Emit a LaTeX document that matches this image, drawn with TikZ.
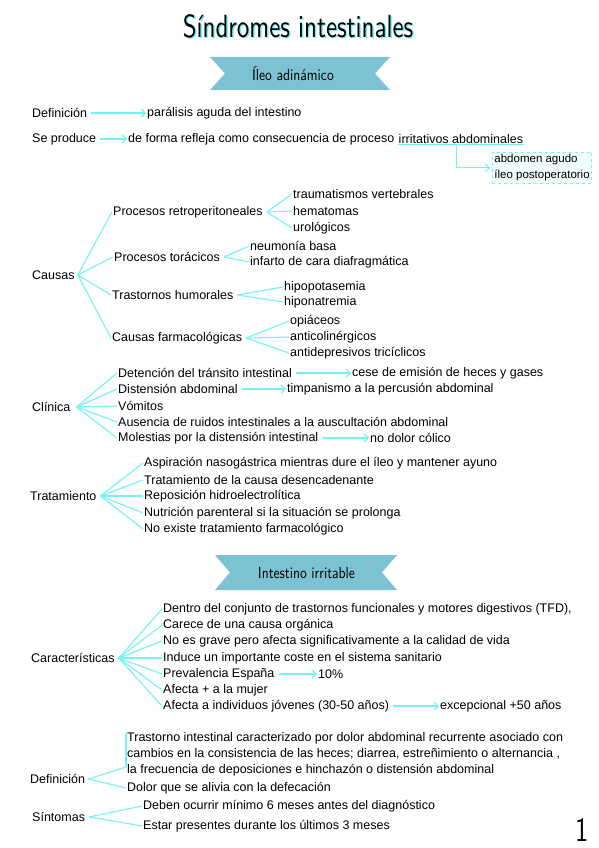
\documentclass[tikz,border=0pt]{standalone}
\usepackage{fontspec}
\setmainfont{Liberation Sans}
\usepackage{tikz}
\usetikzlibrary{positioning, arrows.meta, calc}
\definecolor{cyanLine}{HTML}{74F2F4}
\definecolor{bannerBlue}{HTML}{7CC2D2}
\definecolor{boxFill}{HTML}{F1FDFD}
\newfontfamily\titlefont[FakeStretch=0.78]{lmsans10-regular.otf}
\newfontfamily\bannerfont[FakeStretch=0.85]{lmsans10-regular.otf}
\newcommand\notefont{\fontsize{12.5}{16}\selectfont}

\begin{document}
\begin{tikzpicture}[x=1pt, y=-1pt]
    \tikzset{t/.style={anchor=west,inner sep=1pt,font=\notefont}, ln/.style={draw=cyanLine,line width=1.1pt}, ar/.style={ln,shorten <=3pt,-{Straight Barb[length=4pt,width=8pt]}}, bn/.style={font=\bannerfont\fontsize{16}{18}\selectfont,inner sep=0pt}}
    \useasboundingbox[fill=white] (0,0) rectangle (599,848);
    % titulo
    \node[font=\titlefont\fontsize{32}{34}\selectfont,text=cyanLine] (titleShadow) at (299.5,27.5) {Síndromes intestinales};
    \node[font=\titlefont\fontsize{32}{34}\selectfont] (title) at (298,26) {Síndromes intestinales};
    % ileo adinamico
    \fill[bannerBlue] (210,57) -- (390,57) -- (375,73.5) -- (390,90) -- (210,90) -- (225,73.5) -- cycle;
    \node[bn] (ileo) at (293,74) {Íleo adinámico};
    \node[t] (def) at (31,113) {Definición};
    \node[t] (defA) at (146,113) {parálisis aguda del intestino};
    \draw[ar] (def) -- (defA);
    \node[t] (prod) at (31,139) {Se produce};
    \node[t] (prodA) at (127,139) {de forma refleja como consecuencia de proceso};
    \node[t] (irr) at ([xshift=2pt]prodA.east) {irritativos abdominales};
    \draw[ar] (prod) -- (prodA);
    \draw[ln] (irr.south west) -- (irr.south east);
    \node[draw=cyanLine,dashed,line width=0.9pt,fill=boxFill,anchor=north west,align=left,inner sep=2pt,font=\fontsize{11.5}{16}\selectfont] (abd) at (492,152) {abdomen agudo\\íleo postoperatorio};
    \draw[ln,-{Straight Barb[length=4pt,width=8pt]}] ([xshift=-4pt]$(irr.south west)!0.5!(irr.south east)$) |- ([xshift=-2pt]abd.west);
    % causas
    \node[t] (causas) at (31,275) {Causas};
    \node[t] (retro) at (112,212) {Procesos retroperitoneales};
    \node[t] (tora) at (113,257) {Procesos torácicos};
    \node[t] (humo) at (111,295) {Trastornos humorales};
    \node[t] (farma) at (111,338) {Causas farmacológicas};
    \foreach \n in {retro,tora,humo,farma} \draw[ln] ([xshift=2pt]causas.east) -- (\n.west);
    \foreach \txt/\y [count=\i] in {traumatismos vertebrales/194, hematomas/211, urológicos/228} {
      \node[t] (retro\i) at (292,\y) {\txt};
      \draw[ln] ([xshift=3pt]retro.east) -- (retro\i.west);
    }
    \foreach \txt/\y [count=\i] in {neumonía basa/246, infarto de cara diafragmática/262} {
      \node[t] (tora\i) at (249,\y) {\txt};
      \draw[ln] ([xshift=3pt]tora.east) -- (tora\i.west);
    }
    \foreach \txt/\y [count=\i] in {hipopotasemia/287, hiponatremia/302} {
      \node[t] (humo\i) at (283,\y) {\txt};
      \draw[ln] ([xshift=3pt]humo.east) -- (humo\i.west);
    }
    \foreach \txt/\y [count=\i] in {opiáceos/321, anticolinérgicos/337, antidepresivos tricíclicos/353} {
      \node[t] (farma\i) at (289,\y) {\txt};
      \draw[ln] ([xshift=3pt]farma.east) -- (farma\i.west);
    }
    % clinica
    \node[t] (clin) at (31,407) {Clínica};
    \foreach \txt/\y [count=\i] in {Detención del tránsito intestinal/373, Distensión abdominal/389, Vómitos/406, Ausencia de ruidos intestinales a la auscultación abdominal/422, Molestias por la distensión intestinal/438} {
      \node[t] (clin\i) at (117,\y) {\txt};
      \draw[ln] ([xshift=5pt]clin.east) -- (clin\i.west);
    }
    \node[t] (cese) at (351,373) {cese de emisión de heces y gases};
    \node[t] (timp) at (286,389) {timpanismo a la percusión abdominal};
    \node[t] (colico) at (369,438) {no dolor cólico};
    \draw[ar] (clin1) -- (cese); \draw[ar] (clin2) -- (timp); \draw[ar] (clin5) -- (colico);
    % tratamiento
    \node[t] (trat) at (29,496) {Tratamiento};
    \foreach \txt/\y [count=\i] in {Aspiración nasogástrica mientras dure el íleo y mantener ayuno/463, Tratamiento de la causa desencadenante/480, Reposición hidroelectrolítica/496, Nutrición parenteral si la situación se prolonga/513, No existe tratamiento farmacológico/529} {
      \node[t] (trat\i) at (143,\y) {\txt};
      \draw[ln] ([xshift=3pt]trat.east) -- (trat\i.west);
    }
    % intestino irritable
    \fill[bannerBlue] (215,555) -- (397,555) -- (382,572.5) -- (397,590) -- (215,590) -- (230,572.5) -- cycle;
    \node[bn] (irrit) at (306.5,573) {Intestino irritable};
    \node[t] (carac) at (30,658) {Características};
    \foreach \txt/\y [count=\i] in {{Dentro del conjunto de trastornos funcionales y motores digestivos (TFD),}/609, Carece de una causa orgánica/625, No es grave pero afecta significativamente a la calidad de vida/641, Induce un importante coste en el sistema sanitario/658, Prevalencia España/674, Afecta + a la mujer/690, Afecta a individuos jóvenes (30-50 años)/706} {
      \node[t] (carac\i) at (162,\y) {\txt};
      \draw[ln] ([xshift=3pt]carac.east) -- (carac\i.west);
    }
    \node[t] (prev) at (317,674) {10\%};
    \node[t] (excep) at (439,706) {excepcional +50 años};
    \draw[ar] (carac5) -- (prev); \draw[ar] (carac7) -- (excep);
    \node[t] (def2) at (29,779) {Definición};
    \node[t,anchor=north west,align=left] (trast) at (126,731) {Trastorno intestinal caracterizado por dolor abdominal recurrente asociado con\\cambios en la consistencia de las heces; diarrea, estreñimiento o alternancia ,\\la frecuencia de deposiciones e hinchazón o distensión abdominal};
    \node[t] (dolor) at (126,788) {Dolor que se alivia con la defecación};
    \coordinate (barTop) at (126,733);
    \coordinate (barEnd) at (126,767);
    \draw[ln] (barTop) -- (barEnd);
    \draw[ln] ([xshift=2pt]def2.east) -- (barEnd);
    \draw[ln] ([xshift=2pt]def2.east) -- (dolor.west);
    \node[t] (sint) at (31,817) {Síntomas};
    \foreach \txt/\y [count=\i] in {Deben ocurrir mínimo 6 meses antes del diagnóstico/806, Estar presentes durante los últimos 3 meses/826} {
      \node[t] (sint\i) at (142,\y) {\txt};
      \draw[ln] ([xshift=3pt]sint.east) -- (sint\i.west);
    }
    \node[font=\titlefont\fontsize{34}{36}\selectfont] (pageNum) at (582,830) {1};
  \end{tikzpicture}
\end{document}
